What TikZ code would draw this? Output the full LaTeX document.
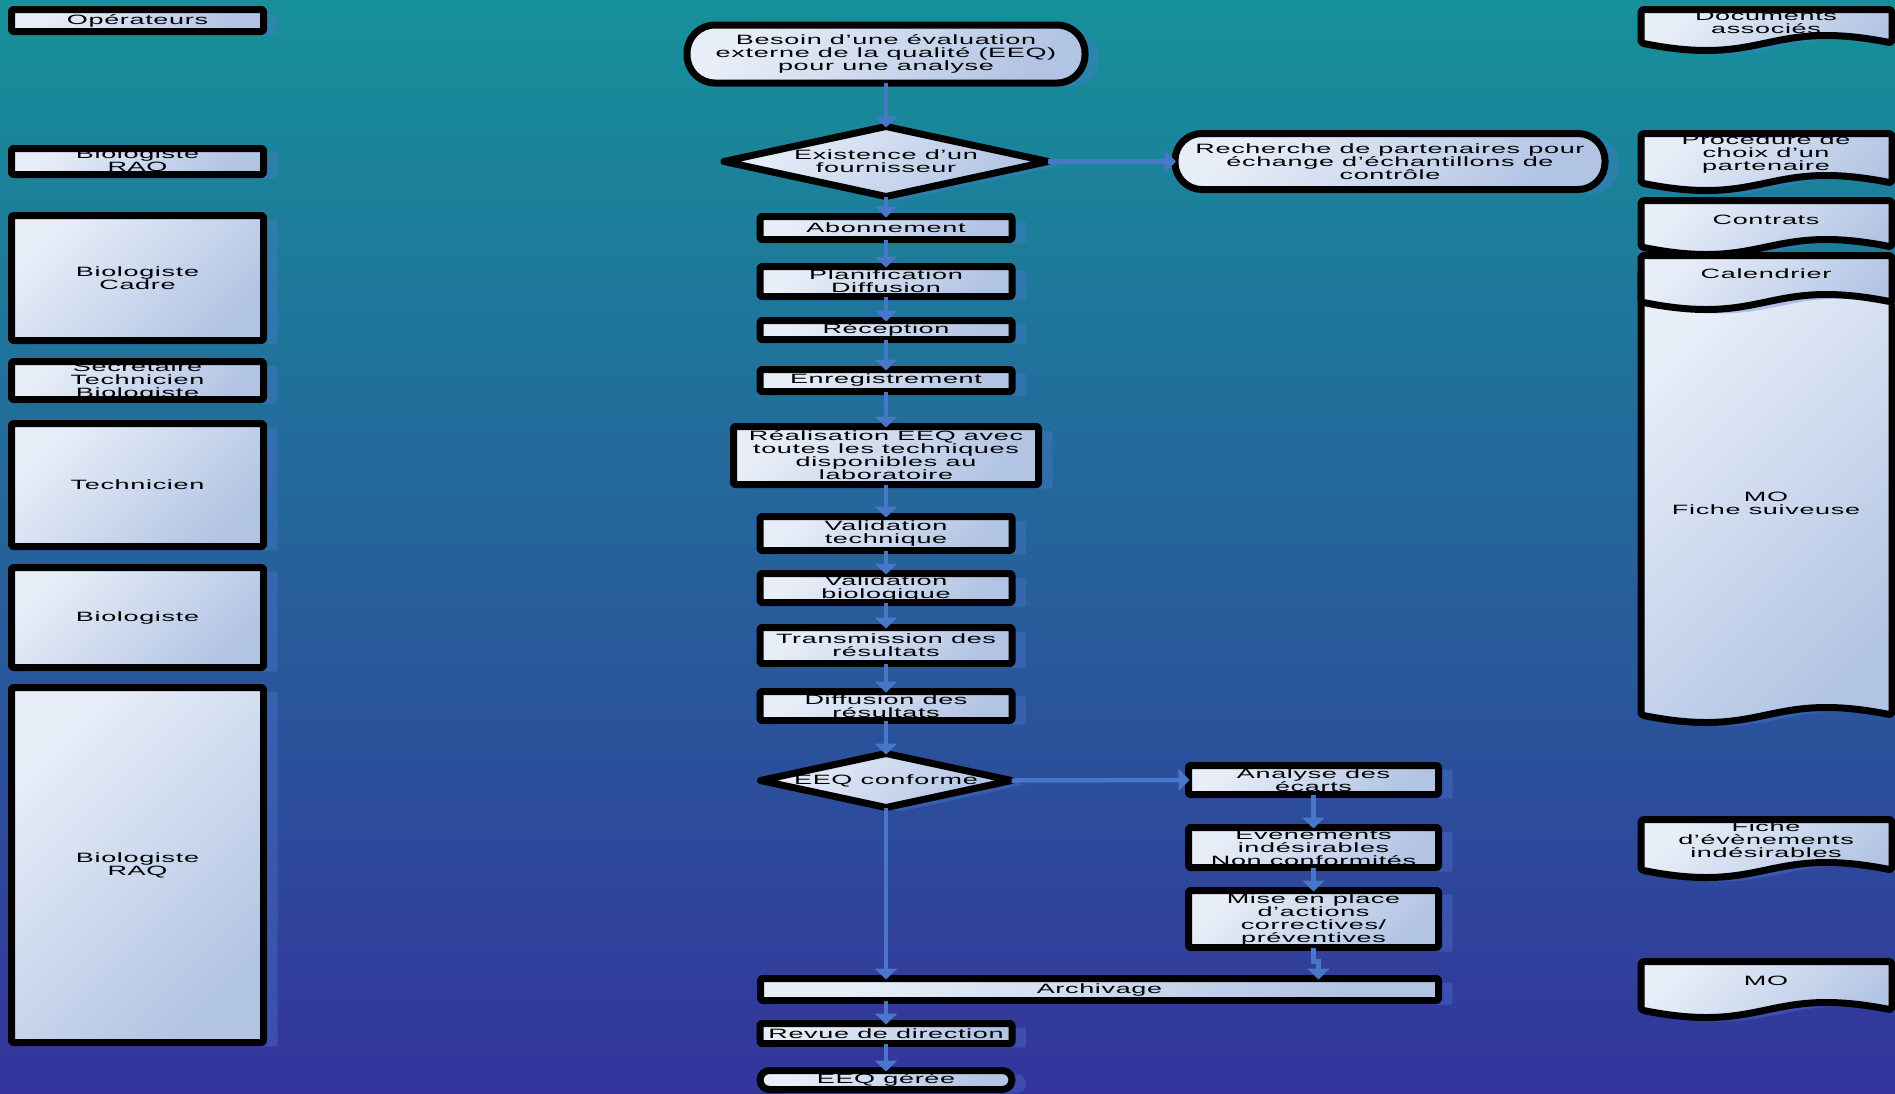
\documentclass[tikz,border=0pt]{standalone}
\usepackage{fontspec}
\newfontfamily\flowfont[FakeStretch=2.0,LetterSpace=5]{Liberation Sans}
\usetikzlibrary{arrows.meta,shapes.geometric,shadows}
\definecolor{BgTop}{RGB}{22,145,154}
\definecolor{BgMid}{RGB}{42,100,157}
\definecolor{BgBottom}{RGB}{52,52,156}
\definecolor{BoxLight}{RGB}{232,238,248}
\definecolor{BoxDark}{RGB}{178,196,228}
\definecolor{ShadowBlue}{RGB}{80,120,210}
\definecolor{FlowBlue}{RGB}{72,118,200}

% document shape with a wavy lower edge: name, top, wave base, text y, text
\newcommand{\docshape}[5]{%
  \shade[docfill] (1641,#3) -- (1641,#2) -- (1892,#2) -- (1892,#3)
    .. controls (1766,#3-25) and (1766,#3+25) .. (1641,#3) -- cycle;
  \node[boxtext] (#1) at (1766,#4) {#5};
  \draw[frame, rounded corners=3pt] (1641,#3) -- (1641,#2) -- (1892,#2) -- (1892,#3)
    .. controls (1766,#3-25) and (1766,#3+25) .. (1641,#3) -- cycle;
}

\begin{document}
\begin{tikzpicture}[x=1pt, y=-1pt,
  boxfill/.style={inner sep=0pt, outer sep=0pt,
    top color=BoxLight, bottom color=BoxDark, shading angle=45,
    drop shadow={shadow xshift=14pt, shadow yshift=-4pt, fill=ShadowBlue, opacity=0.35}},
  docfill/.style={boxfill, rounded corners=3pt},
  procbox/.style={boxfill, rectangle, rounded corners=2pt},
  termbox/.style={boxfill, rectangle, rounded corners=#1},
  decision/.style={boxfill, diamond},
  boxtext/.style={font=\flowfont\fontsize{13.5}{13}\selectfont, align=center, text=black, inner sep=0pt},
  frame/.style={draw=black, line width=7pt, line join=round},
  flow/.style={draw=FlowBlue, line width=4.5pt, shorten >=-1pt, -{Triangle[width=22pt,length=11pt]}}]

\useasboundingbox (0,0) rectangle (1895,1093);
\shade[top color=BgTop, middle color=BgMid, bottom color=BgBottom] (0,0) rectangle (1895,1093);

% operateurs
\node[procbox, minimum width=252pt, minimum height=22pt, label={[boxtext]center:Opérateurs}] (op) at (137.5,20.5) {};
\node[procbox, minimum width=252pt, minimum height=26pt, label={[boxtext]center:{Biologiste\\RAQ}}] (raqa) at (137.5,161.5) {};
\node[procbox, minimum width=252pt, minimum height=125pt, label={[boxtext]center:{Biologiste\\Cadre}}] (cadre) at (137.5,278) {};
\node[procbox, minimum width=252pt, minimum height=38pt, label={[boxtext]center:{Secrétaire\\Technicien\\Biologiste}}] (secr) at (137.5,380.5) {};
\node[procbox, minimum width=252pt, minimum height=123pt, label={[boxtext]center:Technicien}] (tech) at (137.5,485) {};
\node[procbox, minimum width=252pt, minimum height=100pt, label={[boxtext]center:Biologiste}] (bio) at (137.5,617.5) {};
\node[procbox, minimum width=252pt, minimum height=355pt, label={[boxtext]center:{Biologiste\\RAQ}}] (raqb) at (137.5,865) {};

% deroulement
\node[termbox=28pt, minimum width=398pt, minimum height=58pt, label={[boxtext]center:{Besoin d’une évaluation\\externe de la qualité (EEQ)\\pour une analyse}}] (besoin) at (886,54) {};
\node[decision, minimum width=324pt, minimum height=70pt, label={[boxtext]center:{Existence d’un\\fournisseur}}] (exist) at (886,161.5) {};
\node[termbox=27pt, minimum width=430pt, minimum height=56pt, label={[boxtext]center:{Recherche de partenaires pour\\échange d’échantillons de\\contrôle}}] (recherche) at (1390,161.5) {};
\node[procbox, minimum width=252pt, minimum height=23pt, label={[boxtext]center:Abonnement}] (abo) at (886,228) {};
\node[procbox, minimum width=252pt, minimum height=30pt, label={[boxtext]center:{Planification\\Diffusion}}] (plan) at (886,281.5) {};
\node[procbox, minimum width=252pt, minimum height=19pt, label={[boxtext]center:Réception}] (recep) at (886,330) {};
\node[procbox, minimum width=252pt, minimum height=22pt, label={[boxtext]center:Enregistrement}] (enreg) at (886,380.5) {};
\node[procbox, minimum width=305pt, minimum height=58pt, label={[boxtext]center:{Réalisation EEQ avec\\toutes les techniques\\disponibles au\\laboratoire}}] (real) at (886,455.5) {};
\node[procbox, minimum width=252pt, minimum height=34pt, label={[boxtext]center:{Validation\\technique}}] (vtech) at (886,533.5) {};
\node[procbox, minimum width=252pt, minimum height=29pt, label={[boxtext]center:{Validation\\biologique}}] (vbio) at (886,588) {};
\node[procbox, minimum width=252pt, minimum height=36pt, label={[boxtext]center:{Transmission des\\résultats}}] (trans) at (886,645.5) {};
\node[procbox, minimum width=252pt, minimum height=29pt, label={[boxtext]center:{Diffusion des\\résultats}}] (diffu) at (886,706) {};
\node[decision, minimum width=251pt, minimum height=54pt, label={[boxtext]center:EEQ conforme}] (conf) at (886,780.5) {};
\node[procbox, minimum width=250pt, minimum height=29pt, label={[boxtext]center:{Analyse des\\écarts}}] (analyse) at (1313.5,780) {};
\node[procbox, minimum width=250pt, minimum height=40pt, label={[boxtext]center:{Evénements\\indésirables\\Non conformités}}] (evt) at (1313.5,847.5) {};
\node[procbox, minimum width=250pt, minimum height=57pt, label={[boxtext]center:{Mise en place\\d’actions\\correctives/\\préventives}}] (mise) at (1313.5,919) {};
\node[procbox, minimum width=678pt, minimum height=22pt, label={[boxtext]center:Archivage}] (arch) at (1099.5,989.5) {};
\node[procbox, minimum width=252pt, minimum height=20pt, label={[boxtext]center:Revue de direction}] (revue) at (886,1033.5) {};
\node[termbox=9.5pt, minimum width=252pt, minimum height=19pt, label={[boxtext]center:EEQ gérée}] (geree) at (886,1080) {};

% contours
\foreach \n in {op,raqa,cadre,secr,tech,bio,raqb,abo,plan,recep,enreg,real,vtech,vbio,trans,diffu,analyse,evt,mise,arch,revue}
  \draw[frame, rounded corners=2pt] (\n.south west) rectangle (\n.north east);
\foreach \n/\r in {besoin/28pt,recherche/27pt,geree/9.5pt}
  \draw[frame, rounded corners=\r] (\n.south west) rectangle (\n.north east);
\foreach \n in {exist,conf}
  \draw[frame] (\n.north) -- (\n.east) -- (\n.south) -- (\n.west) -- cycle;

% documents associes
\docshape{docs}{9.5}{43}{22}{Documents\\associés}
\docshape{proc}{133.5}{183}{154}{Procédure de\\choix d’un\\partenaire}
\docshape{contrats}{200.5}{247}{220}{Contrats}
\docshape{fiche}{270}{715}{503}{MO\\Fiche suiveuse}
\docshape{calendrier}{255.5}{302}{274}{Calendrier}
\docshape{ficheei}{819.5}{870}{840}{Fiche\\d’évènements\\indésirables}
\docshape{mo}{961.5}{1010}{981}{MO}

% fleches
\draw[flow] (besoin.south) -- (exist.north);
\draw[flow] (exist.east) -- (recherche.west);
\draw[flow] (exist.south) -- (abo.north);
\foreach \a/\b in {abo/plan,plan/recep,recep/enreg,enreg/real,real/vtech,vtech/vbio,vbio/trans,trans/diffu,diffu/conf,analyse/evt,evt/mise,revue/geree}
  \draw[flow] (\a.south) -- (\b.north);
\draw[flow] (conf.east) -- (analyse.west);
\draw[flow] (conf.south) -- (conf.south |- arch.north);
\draw[flow] (mise.south) -- ++(0,14) -| ([xshift=5pt]mise.south |- arch.north);
\draw[flow] (revue.north |- arch.south) -- (revue.north);
\end{tikzpicture}
\end{document}
